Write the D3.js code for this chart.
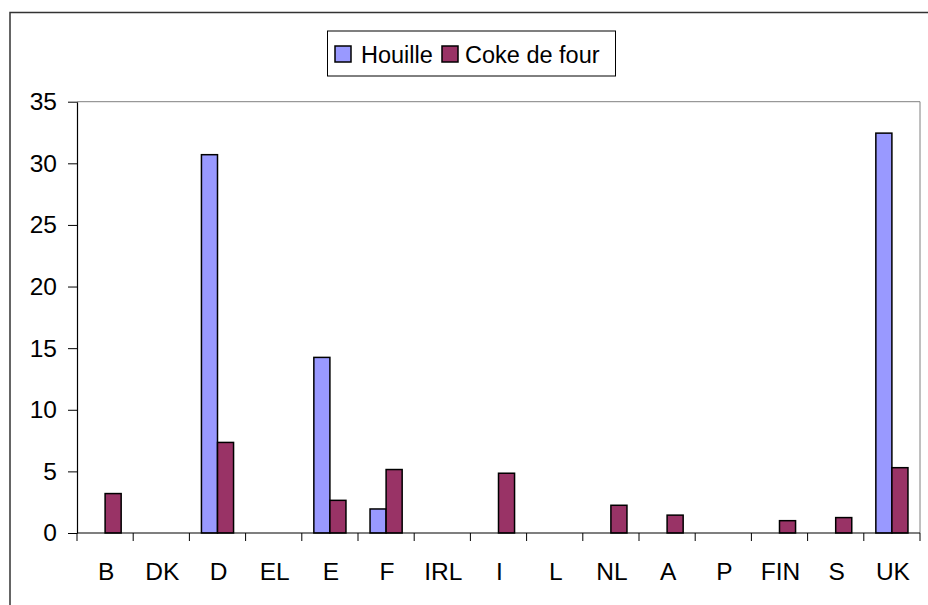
<!DOCTYPE html>
<html><head><meta charset="utf-8">
<script src="https://cdn.jsdelivr.net/npm/d3@7"></script>
<style>body{margin:0;background:#fff}svg{display:block}</style>
</head><body>
<script>
const categories = ["B","DK","D","EL","E","F","IRL","I","L","NL","A","P","FIN","S","UK"];
const houille = [0,0,30.7,0,14.25,1.95,0,0,0,0,0,0,0,0,32.45];
const coke = [3.2,0,7.35,0,2.65,5.15,0,4.85,0,2.25,1.45,0,1.0,1.25,5.3];
const seriesNames = ["Houille","Coke de four"];
const seriesColors = ["#9999FF","#993366"];
const yTicks = [0,5,10,15,20,25,30,35];

const W = 928, H = 605;
const svg = d3.select("body").append("svg").attr("width",W).attr("height",H);
const font = "'Liberation Sans', Arial, sans-serif";

// outer frame
svg.append("rect").attr("x",10).attr("y",12.5).attr("width",W).attr("height",H)
  .attr("fill","none").attr("stroke","#333").attr("stroke-width",1.5);

const L = 77, R = 920, T = 101.7, B = 533;
const x = d3.scaleBand().domain(categories).range([L,R]).paddingInner(0).paddingOuter(0);
const y = d3.scaleLinear().domain([0,35]).range([B,T]);

// plot area border (top & right)
svg.append("path").attr("d",`M${L},${T}H${R}V${B}`).attr("fill","none")
  .attr("stroke","#808080").attr("stroke-width",1);

// bars
const bw = x.bandwidth()/3.5;
const data = [houille, coke];
data.forEach((vals,si)=>{
  svg.append("g").selectAll("rect")
    .data(categories.map((c,i)=>({c,v:vals[i]})).filter(d=>d.v>0))
    .join("rect")
    .attr("x",d=>x(d.c)+x.bandwidth()/2 - bw + si*bw)
    .attr("y",d=>y(d.v))
    .attr("width",bw)
    .attr("height",d=>B-y(d.v))
    .attr("fill",seriesColors[si])
    .attr("stroke","#000").attr("stroke-width",1.5);
});

// y axis
const gy = svg.append("g").attr("transform",`translate(${L},0)`)
  .call(d3.axisLeft(y).tickValues(yTicks).tickSize(9).tickPadding(11).tickSizeOuter(0));
gy.select(".domain").attr("stroke","#000").attr("stroke-width",1.2);
gy.selectAll(".tick line").attr("stroke","#000");
gy.selectAll("text").attr("font-family",font).attr("font-size",24.5).attr("fill","#000");

// x axis
const gx = svg.append("g").attr("transform",`translate(0,${B})`);
gx.append("line").attr("x1",L).attr("x2",R).attr("stroke","#000").attr("stroke-width",1.2);
const bounds = categories.map(c=>x(c)).concat([R]);
gx.selectAll(".bt").data(bounds).join("line").attr("class","bt")
  .attr("x1",d=>d).attr("x2",d=>d).attr("y1",0).attr("y2",8).attr("stroke","#000");
gx.selectAll(".lbl").data(categories).join("text").attr("class","lbl")
  .attr("x",d=>x(d)+x.bandwidth()/2+1).attr("y",46.5)
  .attr("text-anchor","middle").attr("font-family",font).attr("font-size",24.5).attr("fill","#000")
  .text(d=>d);

// legend
const lg = svg.append("g");
lg.append("rect").attr("x",327.5).attr("y",31).attr("width",288).attr("height",45)
  .attr("fill","#fff").attr("stroke","#000").attr("stroke-width",1);
const legX = [[335,361],[442,465]];
seriesNames.forEach((n,i)=>{
  lg.append("rect").attr("x",legX[i][0]).attr("y",46).attr("width",16).attr("height",16)
    .attr("fill",seriesColors[i]).attr("stroke","#000").attr("stroke-width",1.5);
  lg.append("text").attr("x",legX[i][1]).attr("y",62.5).attr("font-family",font)
    .attr("font-size",23.5).attr("fill","#000").text(n);
});
</script>
</body></html>
